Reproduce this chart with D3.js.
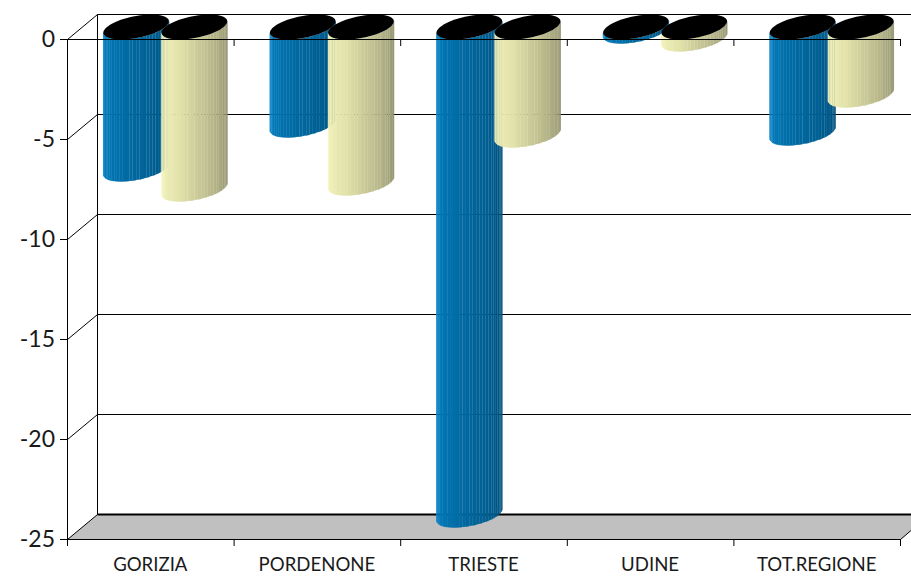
<!DOCTYPE html>
<html lang="en">
<head>
  <meta charset="UTF-8">
  <title>Province 3D cylinders</title>
  <script src="https://d3js.org/d3.v7.min.js"></script>
  <style>
    body {margin: 0; padding: 0; background: #fff; overflow: hidden;}
    svg {display: block;}
    .axis text {font-family: Lato, sans-serif; fill: #1a1a1a;}
    .axis path, .axis line, .wall {stroke: #000; stroke-width: 1; fill: none;}
  </style>
</head>
<body>
  <div id="chart"></div>
  <script>
    const categories = ["GORIZIA", "PORDENONE", "TRIESTE", "UDINE", "TOT.REGIONE"];
    const seriesNames = ["blue", "yellow"];
    const blueValues = [-7.1, -4.9, -24.4, -0.2, -5.3];
    const yellowValues = [-8.1, -7.8, -5.4, -0.6, -3.4];
    const yTicks = [0, -5, -10, -15, -20, -25];

    const width = 911, height = 576;
    const depthX = 30, depthY = 25;

    const svg = d3.select("#chart").append("svg")
      .attr("width", width).attr("height", height);

    const x = d3.scaleBand().domain(categories).range([67, 900]);
    const x1 = d3.scaleBand().domain(seriesNames).range([25, x.bandwidth() - 25]);
    const y = d3.scaleLinear().domain([0, -25]).range([39, 539]);

    // floor
    const yBot = y(-25) + 0.5;
    svg.append("path")
      .attr("d", `M67.5,${yBot}L97.5,${yBot - depthY}L${width},${yBot - depthY}L${width},${yBot - 9}L900.5,${yBot}Z`)
      .attr("fill", "#c0c0c0");

    // back wall grid
    yTicks.forEach(t => {
      const yy = y(t) + 0.5;
      svg.append("path").attr("class", "wall")
        .attr("d", `M67.5,${yy}L97.5,${yy - depthY}L${width},${yy - depthY}`);
    });
    svg.append("line").attr("class", "wall")
      .attr("x1", 97.5).attr("x2", 97.5)
      .attr("y1", y(0) + 0.5 - depthY).attr("y2", yBot - depthY);
    svg.append("line").attr("class", "wall")
      .attr("x1", 97.5).attr("x2", width)
      .attr("y1", yBot - depthY).attr("y2", yBot - depthY)
      .style("stroke-width", 2);
    svg.append("path").attr("class", "wall")
      .attr("d", `M900.5,${yBot}L${width},${yBot - 9}`);

    const blueShade = d3.scaleLinear()
      .domain([0, 0.06, 0.35, 1])
      .range(["#1a94d2", "#0580c2", "#006ea8", "#00507c"]);
    const yellowShade = d3.scaleLinear()
      .domain([0, 0.06, 0.35, 1])
      .range(["#ffffc8", "#f4f4bc", "#e2e2aa", "#8e8e6c"]);

    const facetCount = 30;
    const t0 = Math.atan2(depthX, x1.bandwidth());
    const line = d3.line();

    // point on the round section of a cylinder, at the level of value v
    function rim(left, v, t) {
      const w = x1.bandwidth();
      return [
        left + w / 2 + depthX / 2 + w / 2 * Math.cos(t) + depthX / 2 * Math.sin(t),
        y(v) + 0.5 - depthY / 2 - depthY / 2 * Math.sin(t)
      ];
    }

    function drawCylinder(cat, name, v, shade) {
      const left = x(cat) + x1(name);
      const g = svg.append("g");
      d3.range(facetCount).forEach(i => {
        const a = t0 + Math.PI + Math.PI * i / facetCount;
        const b = t0 + Math.PI + Math.PI * (i + 1) / facetCount;
        const c = shade((i + 0.5) / facetCount);
        // seams stay open on the darker side and at one spot near the left edge
        const open = i === 2 || (i >= 13 && i < facetCount - 1 && i % 2 === 1);
        g.append("path")
          .attr("d", line([rim(left, 0, a), rim(left, 0, b), rim(left, v, b), rim(left, v, a)]) + "Z")
          .attr("fill", c)
          .attr("stroke", open ? "none" : c)
          .attr("stroke-width", open ? 0 : 0.4);
      });
      g.append("path")
        .attr("d", line(d3.range(72).map(i => rim(left, 0, i * Math.PI / 36))) + "Z")
        .attr("fill", "#000");
    }

    categories.forEach((c, i) => {
      drawCylinder(c, "blue", blueValues[i], blueShade);
      drawCylinder(c, "yellow", yellowValues[i], yellowShade);
    });

    // axes on top of the bars
    const yAxis = d3.axisLeft(y).tickValues(yTicks).tickSize(7).tickPadding(5).tickFormat(d => String(d));
    svg.append("g").attr("class", "axis")
      .attr("transform", "translate(67,0)")
      .call(yAxis)
      .selectAll("text").style("font-size", "23px");

    const edgeScale = d3.scaleLinear().domain([0, 5]).range(x.range());
    const edgeAxis = d3.axisBottom(edgeScale).tickValues(d3.range(6)).tickSize(7).tickFormat("").tickSizeOuter(0);
    svg.append("g").attr("class", "axis").attr("transform", `translate(0,${y(0)})`).call(edgeAxis);
    svg.append("g").attr("class", "axis").attr("transform", `translate(0,${y(-25)})`).call(edgeAxis);

    const labelAxis = d3.axisBottom(x).tickSize(0).tickPadding(19);
    const labels = svg.append("g").attr("class", "axis").attr("transform", `translate(0,${y(-25)})`).call(labelAxis);
    labels.select(".domain").remove();
    labels.selectAll("text").style("font-size", "18.6px");
  </script>
</body>
</html>
